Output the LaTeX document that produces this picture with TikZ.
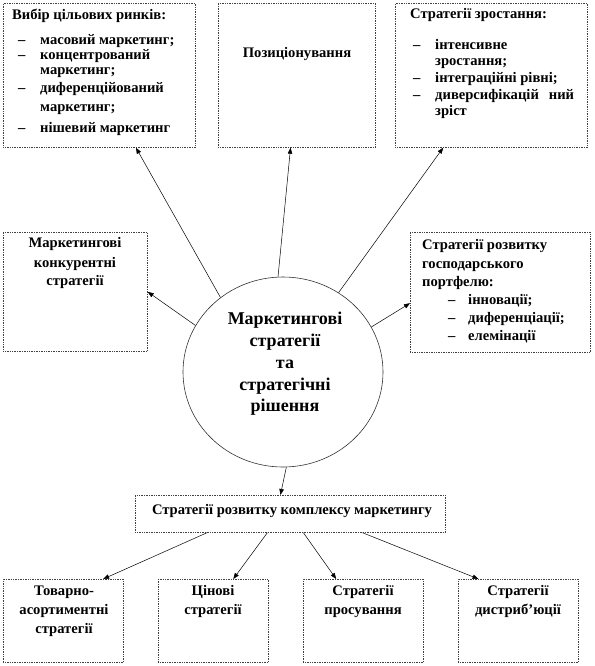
\documentclass[tikz,border=0pt]{standalone}
\usepackage{fontspec}
\setmainfont{Liberation Serif}
\usetikzlibrary{arrows.meta,calc,shapes.geometric}
\begin{document}
\begin{tikzpicture}[x=1pt,y=-1pt,
  box/.style={draw=black!75, densely dotted, line width=0.7pt, fill=white, inner sep=0pt, anchor=north west},
  t/.style={inner sep=0pt, font=\bfseries\fontsize{14.6}{17}\selectfont},
  tw/.style={t, anchor=mid west},
  tc/.style={t, anchor=mid},
  arr/.style={-{Triangle[length=6pt,width=4.5pt]}, line width=0.5pt, black},
]
\useasboundingbox (0,0) rectangle (594,666);
% boxes
\node[box, minimum width=192pt, minimum height=144pt] (bA) at (3,3) {};
\node[box, minimum width=157pt, minimum height=144pt] (bB) at (218,3) {};
\node[box, minimum width=192pt, minimum height=144pt] (bC) at (395,3) {};
\node[box, minimum width=144pt, minimum height=119pt] (bD) at (3,232) {};
\node[box, minimum width=180pt, minimum height=120pt] (bE) at (410,232) {};
\node[draw=black!80, line width=0.6pt, ellipse, minimum width=200pt, minimum height=190pt, inner sep=0pt] (circ) at (283,372) {};
\node[box, minimum width=310pt, minimum height=37pt] (bF) at (135,495) {};
\node[box, minimum width=120pt, minimum height=83pt] (bG1) at (3,579) {};
\node[box, minimum width=110pt, minimum height=83pt] (bG2) at (158,579) {};
\node[box, minimum width=120pt, minimum height=83pt] (bG3) at (303,579) {};
\node[box, minimum width=120pt, minimum height=83pt] (bG4) at (458,579) {};
% texts: top left
\node[tw] (a0) at (12,17) {Вибір цільових ринків:};
\node[tw] (a1d) at (18,42) {–};
\node[tw] (a1) at (40,42) {масовий маркетинг;};
\node[tw] (a2d) at (18,57) {–};
\node[tw] (a2) at (40,57) {концентрований};
\node[tw] (a3) at (40,72) {маркетинг;};
\node[tw] (a4d) at (18,90) {–};
\node[tw] (a4) at (40,90) {диференційований};
\node[tw] (a5) at (40,109) {маркетинг;};
\node[tw] (a6d) at (18,130) {–};
\node[tw] (a6) at (40,130) {нішевий маркетинг};
% top middle
\node[tc] (b0) at (297,55) {Позиціонування};
% top right
\node[tw] (c0) at (410,16) {Стратегії зростання:};
\node[tw] (c1d) at (413,47) {–};
\node[tw] (c1) at (435,47) {інтенсивне};
\node[tw] (c2) at (435,63) {зростання;};
\node[tw] (c3d) at (413,80) {–};
\node[tw] (c3) at (435,80) {інтеграційні рівні;};
\node[tw] (c4d) at (413,97) {–};
\node[tw] (c4) at (435,97) {диверсифікацій\hspace{10pt}ний};
\node[tw] (c5) at (435,113) {зріст};
% left middle
\node[tc] (d0) at (75,245) {Маркетингові};
\node[tc] (d1) at (75,265) {конкурентні};
\node[tc] (d2) at (75,283) {стратегії};
% right middle
\node[tw] (e0) at (422,247) {Стратегії розвитку};
\node[tw] (e1) at (422,266) {господарського};
\node[tw] (e2) at (422,284) {портфелю:};
\node[tw] (e3d) at (448,302) {–};
\node[tw] (e3) at (468,302) {інновації;};
\node[tw] (e4d) at (448,320) {–};
\node[tw] (e4) at (468,320) {диференціації;};
\node[tw] (e5d) at (448,338) {–};
\node[tw] (e5) at (468,338) {елемінації};
% circle text
\node[inner sep=0pt, align=center, font=\bfseries\fontsize{18}{21.8}\selectfont] (ct) at (285,364) {Маркетингові\\стратегії\\та\\стратегічні\\рішення};
% middle box
\node[tc] (f0) at (292,512) {Стратегії розвитку комплексу маркетингу};
% bottom
\node[tc] (g1a) at (64,593) {Товарно-};
\node[tc] (g1b) at (64,612) {асортиментні};
\node[tc] (g1c) at (64,631) {стратегії};
\node[tc] (g2a) at (213,593) {Цінові};
\node[tc] (g2b) at (213,612) {стратегії};
\node[tc] (g3a) at (363,593) {Стратегії};
\node[tc] (g3b) at (363,612) {просування};
\node[tc] (g4a) at (518,593) {Стратегії};
\node[tc] (g4b) at (518,612) {дистриб'юції};
% arrows
\draw[arr] (circ.130) -- ($(bA.south west)!0.69!(bA.south east)$);
\draw[arr] (circ.93) -- ($(bB.south west)!0.46!(bB.south east)$);
\draw[arr] (circ.55) -- ($(bC.south west)!0.25!(bC.south east)$);
\draw[arr] (circ.152) -- (bD.east);
\draw[arr] (circ.27) -- ($(bE.north west)!0.59!(bE.south west)$);
\draw[arr] (circ.272) -- ($(bF.north west)!0.468!(bF.north east)$);
\draw[arr] ($(bF.south west)!0.232!(bF.south east)$) -- ($(bG1.north west)!0.83!(bG1.north east)$);
\draw[arr] ($(bF.south west)!0.426!(bF.south east)$) -- ($(bG2.north west)!0.68!(bG2.north east)$);
\draw[arr] ($(bF.south west)!0.542!(bF.south east)$) -- ($(bG3.north west)!0.275!(bG3.north east)$);
\draw[arr] ($(bF.south west)!0.732!(bF.south east)$) -- ($(bG4.north west)!0.17!(bG4.north east)$);
\end{tikzpicture}
\end{document}
